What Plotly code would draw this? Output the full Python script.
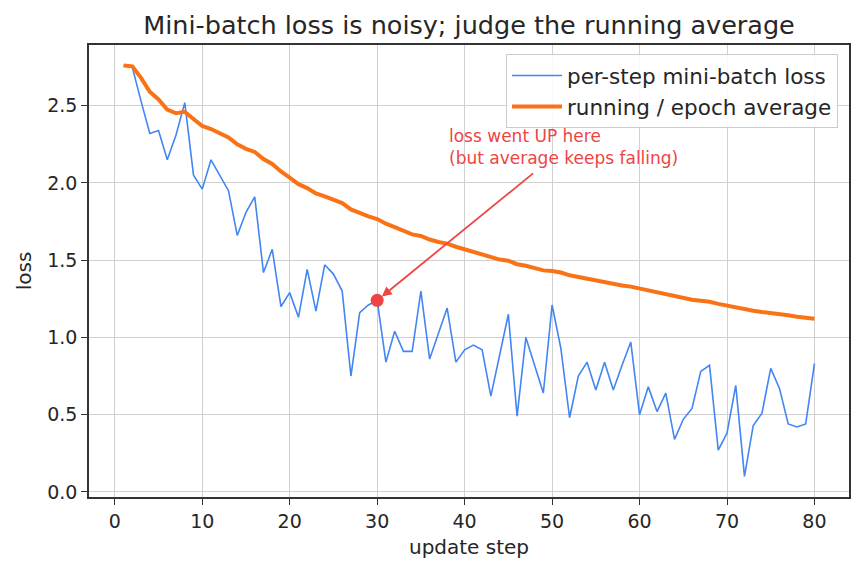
import plotly.graph_objects as go

# ---- data ----
steps = list(range(1, 81))
minibatch_loss = [
    2.76, 2.75, 2.53, 2.32, 2.34, 2.15, 2.31, 2.52, 2.05, 1.96,
    2.15, 2.05, 1.95, 1.66, 1.81, 1.91, 1.42, 1.57, 1.20, 1.29,
    1.13, 1.44, 1.17, 1.47, 1.41, 1.30, 0.75, 1.16, 1.21, 1.24,
    0.84, 1.04, 0.91, 0.91, 1.30, 0.86, 1.02, 1.19, 0.84, 0.92,
    0.95, 0.92, 0.62, 0.88, 1.15, 0.49, 1.00, 0.82, 0.64, 1.21,
    0.93, 0.48, 0.75, 0.84, 0.66, 0.84, 0.66, 0.82, 0.97, 0.50,
    0.68, 0.52, 0.64, 0.34, 0.47, 0.54, 0.78, 0.82, 0.27, 0.38,
    0.69, 0.10, 0.43, 0.51, 0.80, 0.67, 0.44, 0.42, 0.44, 0.83,
]
running_avg = [
    2.760, 2.755, 2.680, 2.590, 2.540, 2.475, 2.451, 2.460, 2.414, 2.369,
    2.349, 2.324, 2.295, 2.250, 2.221, 2.201, 2.155, 2.123, 2.074, 2.035,
    1.992, 1.967, 1.932, 1.913, 1.893, 1.870, 1.829, 1.805, 1.784, 1.766,
    1.736, 1.714, 1.690, 1.667, 1.657, 1.634, 1.618, 1.607, 1.587, 1.570,
    1.555, 1.540, 1.519, 1.504, 1.496, 1.474, 1.464, 1.451, 1.434, 1.430,
    1.420, 1.402, 1.390, 1.379, 1.366, 1.357, 1.345, 1.336, 1.329, 1.316,
    1.305, 1.293, 1.282, 1.268, 1.255, 1.244, 1.237, 1.231, 1.217, 1.205,
    1.198, 1.183, 1.173, 1.164, 1.159, 1.152, 1.143, 1.134, 1.125, 1.121,
]
highlight_step = 30
x_ticks = [0, 10, 20, 30, 40, 50, 60, 70, 80]
y_ticks = [0.0, 0.5, 1.0, 1.5, 2.0, 2.5]
y_tick_text = ["0.0", "0.5", "1.0", "1.5", "2.0", "2.5"]

BLUE = "#4285f4"
ORANGE = "#f97316"
RED = "#ef4444"
FONT = "DejaVu Sans"
DARK = "#262626"

hi_idx = steps.index(highlight_step)

fig = go.Figure()
fig.add_trace(go.Scatter(
    x=steps, y=minibatch_loss, mode="lines",
    name="per-step mini-batch loss",
    line=dict(color=BLUE, width=1.6),
))
fig.add_trace(go.Scatter(
    x=steps, y=running_avg, mode="lines",
    name="running / epoch average",
    line=dict(color=ORANGE, width=4),
))
fig.add_trace(go.Scatter(
    x=[steps[hi_idx]], y=[minibatch_loss[hi_idx]], mode="markers",
    marker=dict(color=RED, size=13), showlegend=False,
))

# arrow
fig.add_annotation(
    x=steps[hi_idx], y=minibatch_loss[hi_idx], xref="x", yref="y",
    ax=48.0, ay=2.07, axref="x", ayref="y",
    text="", showarrow=True, arrowhead=2, arrowsize=1.1, arrowwidth=1.8,
    arrowcolor=RED, standoff=6,
)
# annotation text
fig.add_annotation(
    x=38.0, y=2.235, xref="x", yref="y",
    text="loss went UP here<br>(but average keeps falling)",
    showarrow=False, xanchor="left", yanchor="middle", align="left",
    font=dict(family=FONT, size=17, color=RED),
)

axis_common = dict(
    showline=True, mirror=True, linecolor="#333333", linewidth=1.5,
    ticks="outside", ticklen=6, tickwidth=1.3, tickcolor="#333333",
    showgrid=True, gridcolor="#d0d0d0", gridwidth=0.8,
    zeroline=False,
    tickfont=dict(family=FONT, size=19, color=DARK),
)

fig.update_xaxes(
    range=[-2.95, 83.95], tickvals=x_ticks,
    title=dict(text="update step", font=dict(family=FONT, size=20, color=DARK), standoff=9),
    **axis_common,
)
fig.update_yaxes(
    range=[-0.033, 2.893], tickvals=y_ticks, ticktext=y_tick_text,
    title=dict(text="loss", font=dict(family=FONT, size=20, color=DARK), standoff=10),
    **axis_common,
)

fig.update_layout(
    width=862, height=573,
    margin=dict(l=89, r=13, t=45, b=76),
    paper_bgcolor="white", plot_bgcolor="white",
    title=dict(
        text="Mini-batch loss is noisy; judge the running average",
        x=0.5, xref="paper", xanchor="center",
        y=1 - 25 / 573, yref="container", yanchor="middle",
        font=dict(family=FONT, size=25.5, color=DARK),
    ),
    legend=dict(
        x=0.9855, xanchor="right", y=0.98, yanchor="top",
        bgcolor="rgba(255,255,255,0.85)", bordercolor="#cccccc", borderwidth=1,
        font=dict(family=FONT, size=21.5, color=DARK),
        itemwidth=50,
    ),
    showlegend=True,
)

fig.write_html("out.html")
